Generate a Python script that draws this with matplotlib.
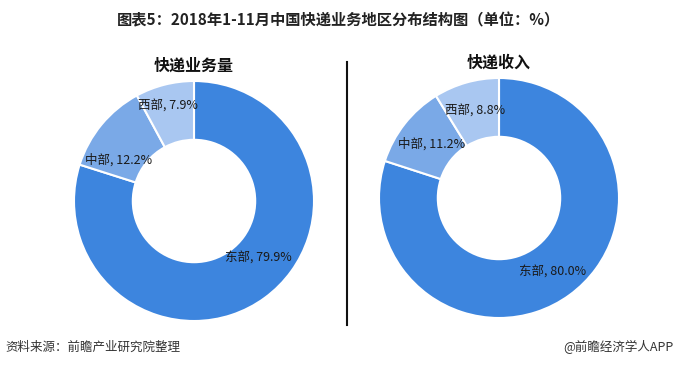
import matplotlib
matplotlib.use("Agg")
import matplotlib.pyplot as plt

plt.rcParams['font.family'] = ['Noto Sans CJK SC', 'DejaVu Sans']

# data
regions = ["东部", "中部", "西部"]
volume_share = [79.9, 12.2, 7.9]     # 快递业务量
revenue_share = [80.0, 11.2, 8.8]    # 快递收入
colors = ["#3d85de", "#7aa9e7", "#a9c7f1"]

title = "图表5：2018年1-11月中国快递业务地区分布结构图（单位：%）"
source = "资料来源：前瞻产业研究院整理"
brand = "@前瞻经济学人APP"

# label positions inside each donut (axes units, radius = 1)
volume_label_pos = [(0.54, -0.48), (-0.63, 0.34), (-0.22, 0.79)]
revenue_label_pos = [(0.45, -0.62), (-0.56, 0.45), (-0.20, 0.72)]

W, H = 680, 365
fig = plt.figure(figsize=(W / 100, H / 100), dpi=100)


def donut(cx, cy, r, values, label_pos, subtitle, sub_y):
    ax = fig.add_axes([(cx - r) / W, (H - cy - r) / H, 2 * r / W, 2 * r / H])
    ax.pie(values, colors=colors, startangle=90, counterclock=False, radius=1,
           wedgeprops=dict(width=0.49, edgecolor="white", linewidth=1.5))
    ax.set_xlim(-1, 1)
    ax.set_ylim(-1, 1)
    ax.set_aspect("equal")
    ax.axis("off")
    for name, val, (x, y) in zip(regions, values, label_pos):
        ax.text(x, y, "{}, {:.1f}%".format(name, val), ha="center", va="center",
                fontsize=9, color="#1a1a1a")
    fig.text(cx / W, 1 - sub_y / H, subtitle, ha="center", va="center",
             fontsize=11.5, fontweight="bold", color="#111111")


donut(194, 201, 120, volume_share, volume_label_pos, "快递业务量", 66)
donut(499, 198, 120, revenue_share, revenue_label_pos, "快递收入", 63)

# divider
fig.add_artist(plt.Line2D([347 / W, 347 / W], [1 - 62 / H, 1 - 325 / H],
                          color="#111111", linewidth=1.5))

fig.text(338 / W, 1 - 20 / H, title, ha="center", va="center",
         fontsize=11, fontweight="bold", color="#222222")
fig.text(5 / W, 1 - 347 / H, source, ha="left", va="center",
         fontsize=9, style="italic", color="#333333")
fig.text(674 / W, 1 - 347 / H, brand, ha="right", va="center",
         fontsize=9, color="#333333")

fig.savefig("out.png", dpi=100, facecolor="white")
